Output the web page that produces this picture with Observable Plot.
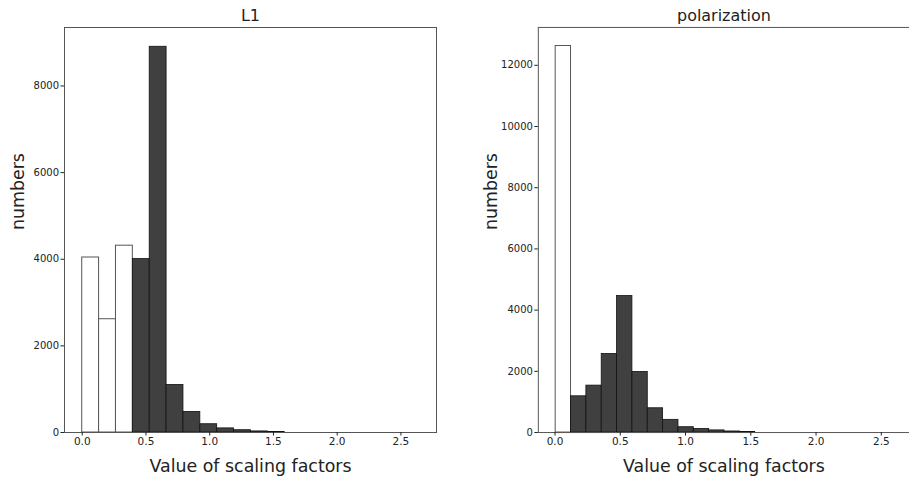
<!DOCTYPE html>
<html><head><meta charset="utf-8">
<script src="https://cdn.jsdelivr.net/npm/d3@7"></script>
<script src="https://cdn.jsdelivr.net/npm/@observablehq/plot@0.6"></script>
<style>
html,body{margin:0;padding:0;background:#fff;overflow:hidden;width:909px;height:479px}
#wrap{position:relative;width:909px;height:479px;overflow:hidden}
#left,#right{position:absolute;top:0}
#left{left:0}
#right{left:455px}
</style></head>
<body><div id="wrap"><div id="left"></div><div id="right"></div></div>
<script>
// ---- data ----
const l1Title = "L1";
const l1Start = 0;
const l1BinWidth = 0.13235;
const l1Counts = [4040, 2615, 4313, 4005, 8905, 1098, 475, 191, 95, 53, 25, 12, 0, 0, 0, 0, 0, 0, 0, 0];
const l1PrunedBins = 3;
const l1YTicks = [0, 2000, 4000, 6000, 8000];

const polTitle = "polarization";
const polStart = 0.005;
const polBinWidth = 0.1176;
const polCounts = [12630, 1184, 1533, 2567, 4460, 1980, 793, 415, 174, 115, 70, 35, 18, 0, 0, 0, 0, 0, 0, 0, 0, 0];
const polPrunedBins = 1;
const polYTicks = [0, 2000, 4000, 6000, 8000, 10000, 12000];

const xTicks = [0, 0.5, 1.0, 1.5, 2.0, 2.5];
const yLabel = "numbers";
const xLabel = "Value of scaling factors";

function hist(o) {
  const bins = o.counts
    .map((c, i) => ({x1: o.start + i * o.w, x2: o.start + (i + 1) * o.w, y: c, pruned: i < o.pruned}))
    .filter(d => d.y > 0);
  return Plot.plot({
    width: o.width, height: 479,
    marginLeft: o.marginLeft, marginRight: o.marginRight, marginTop: o.marginTop, marginBottom: o.marginBottom,
    style: {fontFamily: "DejaVu Sans", background: "#fff", color: "#222"},
    x: {domain: o.xDomain},
    y: {domain: o.yDomain},
    marks: [
      Plot.rectY(bins.filter(d => d.pruned), {x1: "x1", x2: "x2", y: "y", fill: "white", stroke: "#555", strokeWidth: 1}),
      Plot.rectY(bins.filter(d => !d.pruned), {x1: "x1", x2: "x2", y: "y", fill: "#404040", stroke: "#111", strokeWidth: 0.8}),
      Plot.frame({stroke: "#555"}),
      Plot.axisX({ticks: xTicks, tickFormat: d3.format(".1f"), tickSize: 3.5, tickPadding: 2, fontSize: 10.5, label: null}),
      Plot.axisY({ticks: o.yTicks, tickFormat: d3.format("d"), tickSize: 3.5, tickPadding: 2, fontSize: 10, label: null}),
      Plot.text([o.title], {frameAnchor: "top", lineAnchor: "bottom", dy: -6.5, fontSize: 16, text: d => d}),
      Plot.text([yLabel], {frameAnchor: "left", lineAnchor: "bottom", rotate: -90, dx: -o.yLabelOffset, fontSize: 17.4, text: d => d}),
      Plot.text([xLabel], {frameAnchor: "bottom", lineAnchor: "bottom", dy: 39.4, fontSize: 17.4, text: d => d})
    ]
  });
}

document.getElementById("left").append(hist({
  counts: l1Counts, start: l1Start, w: l1BinWidth, pruned: l1PrunedBins, title: l1Title, yTicks: l1YTicks,
  xDomain: [-0.139, 2.779], yDomain: [0, 9350],
  width: 450, marginLeft: 64, marginRight: 14, marginTop: 27, marginBottom: 47, yLabelOffset: 41
}));
document.getElementById("right").append(hist({
  counts: polCounts, start: polStart, w: polBinWidth, pruned: polPrunedBins, title: polTitle, yTicks: polYTicks,
  xDomain: [-0.128, 2.716], yDomain: [0, 13237],
  width: 455, marginLeft: 83, marginRight: 0, marginTop: 27, marginBottom: 46, yLabelOffset: 41
}));
</script>
</body></html>
